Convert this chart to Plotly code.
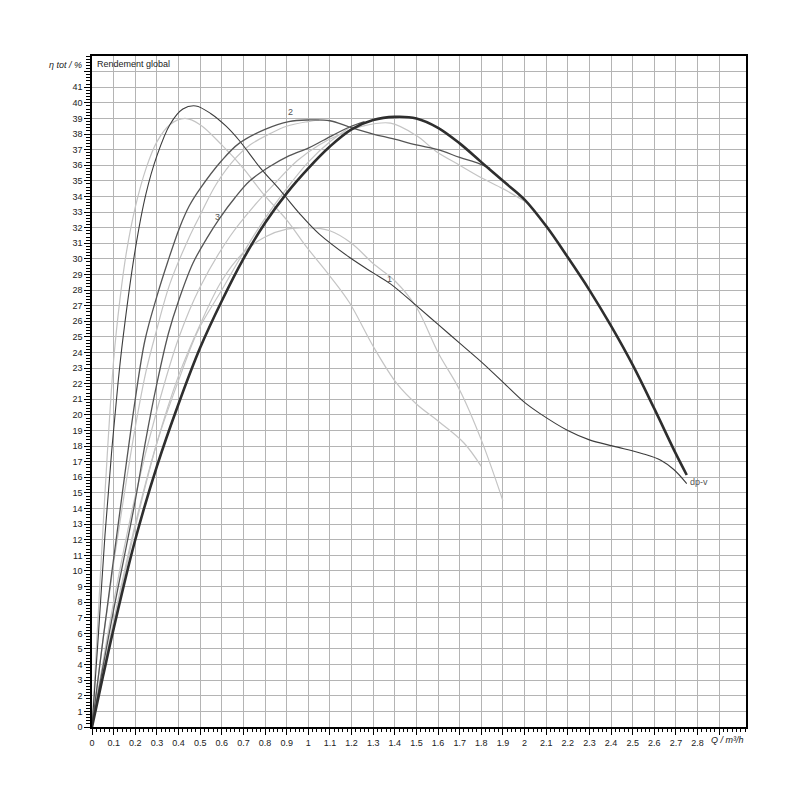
import plotly.graph_objects as go

# flow Q (m3/h) / efficiency (%)
q_1 = [0, 0.03, 0.06, 0.09, 0.12, 0.144, 0.2, 0.25, 0.3, 0.36, 0.42, 0.48, 0.55, 0.62, 0.68, 0.78, 0.87,
       0.96, 1.05, 1.19, 1.3, 1.38, 1.5, 1.6, 1.7, 1.8, 1.9, 2.0, 2.07, 2.2, 2.3, 2.41, 2.55, 2.63, 2.69, 2.75]
eta_1 = [0, 6, 12.3, 17.5, 22.0, 25.0, 30.6, 34.2, 36.6, 38.6, 39.6, 39.8, 39.3, 38.5, 37.6, 35.8, 34.4,
         32.9, 31.6, 30.1, 29.1, 28.4, 27.0, 25.8, 24.6, 23.4, 22.1, 20.8, 20.1, 19.0, 18.4, 18.0, 17.5, 17.1, 16.5, 15.6]

q_1a = [0, 0.03, 0.06, 0.1, 0.13, 0.16, 0.2, 0.25, 0.3, 0.36, 0.43, 0.5, 0.6, 0.7, 0.79, 0.9, 0.99,
        1.1, 1.19, 1.3, 1.41, 1.5, 1.61, 1.72, 1.8]
eta_1a = [0, 7.5, 15, 23.5, 27.5, 30.5, 33.3, 35.8, 37.5, 38.6, 39.0, 38.6, 37.3, 35.8, 34.2, 32.5, 30.8,
          28.9, 27.2, 24.4, 22.0, 20.7, 19.5, 18.2, 16.7]

q_2 = [0, 0.05, 0.1, 0.15, 0.2, 0.245, 0.3, 0.35, 0.405, 0.45, 0.5, 0.6, 0.68, 0.8, 0.91, 1.0, 1.1,
       1.19, 1.3, 1.39, 1.5, 1.6, 1.7, 1.79, 1.84]
eta_2 = [0, 5.5, 10.8, 16.0, 21.0, 24.8, 27.6, 29.8, 32.0, 33.4, 34.5, 36.3, 37.4, 38.3, 38.8, 38.9, 38.85,
         38.45, 38.0, 37.7, 37.3, 37.0, 36.5, 36.1, 35.8]

q_2a = [0, 0.05, 0.1, 0.15, 0.2, 0.25, 0.298, 0.36, 0.45, 0.5, 0.575, 0.667, 0.73, 0.82, 0.9, 1.0, 1.05]
eta_2a = [0, 5.5, 10.5, 15.0, 19.2, 22.8, 25.4, 28.4, 31.4, 32.8, 34.8, 36.5, 37.3, 38.0, 38.5, 38.8, 38.9]

q_3 = [0, 0.05, 0.1, 0.2, 0.25, 0.3, 0.353, 0.4, 0.466, 0.53, 0.59, 0.66, 0.73, 0.82, 0.91, 1.0,
       1.07, 1.19, 1.26]
eta_3 = [0, 3.8, 7.5, 14.5, 18.5, 22.0, 25.2, 27.3, 29.7, 31.3, 32.6, 33.9, 35.0, 35.9, 36.6, 37.1,
         37.6, 38.45, 38.8]

q_3a = [0, 0.1, 0.2, 0.3, 0.4, 0.5, 0.636, 0.75, 0.85, 0.95, 1.05, 1.15, 1.25, 1.38, 1.5, 1.59,
        1.7, 1.8, 1.9, 2.0]
eta_3a = [0, 8.0, 14.8, 20.3, 24.9, 28.2, 31.4, 33.4, 34.9, 36.3, 37.3, 38.0, 38.5, 38.7, 37.9, 36.9,
          36.0, 35.2, 34.5, 33.7]

q_4 = [0, 0.1, 0.2, 0.3, 0.4, 0.5, 0.6, 0.7, 0.8, 0.9, 1.0, 1.1, 1.2, 1.3, 1.4, 1.5, 1.6, 1.7, 1.8, 1.9]
eta_4 = [0, 6.5, 12.8, 18.2, 22.5, 25.8, 28.6, 30.4, 31.4, 31.9, 32.0, 31.8, 31.0, 29.7, 28.6, 26.9,
         24.0, 21.6, 18.4, 14.5]

q_va = [0, 0.1, 0.2, 0.3, 0.4, 0.49, 0.6, 0.7, 0.8, 0.9, 1.0, 1.1, 1.19]
eta_va = [0, 6.8, 13.0, 18.2, 22.2, 25.4, 28.0, 30.4, 32.6, 34.5, 36.2, 37.5, 38.4]

q_dpv = [0, 0.05, 0.1, 0.2, 0.3, 0.4, 0.5, 0.6, 0.7, 0.8, 0.9, 1.0, 1.1, 1.2, 1.3, 1.4,
         1.5, 1.6, 1.7, 1.8, 1.9, 2.0, 2.1, 2.2, 2.3, 2.4, 2.5, 2.6, 2.7, 2.75]
eta_dpv = [0, 3.2, 6.3, 12.0, 16.7, 20.7, 24.3, 27.3, 30.0, 32.3, 34.2, 35.8, 37.2, 38.3,
           38.9, 39.1, 39.0, 38.4, 37.4, 36.2, 35.0, 33.8, 32.1, 30.1, 28.0, 25.7, 23.2, 20.4, 17.5, 16.15]

x_ticks = [i / 10 for i in range(30)]
x_labels = ['0'] + ['%g' % v for v in x_ticks[1:29]] + ['']
y_ticks = list(range(43))
y_labels = [str(v) for v in range(42)] + ['']

FONT = 'Liberation Sans'
LIGHT = '#c4c4c4'

fig = go.Figure()

# pale curves first, dark ones on top
for q, eta in [(q_1a, eta_1a), (q_2a, eta_2a), (q_3a, eta_3a), (q_4, eta_4), (q_va, eta_va)]:
    fig.add_trace(go.Scatter(x=q, y=eta, mode='lines', line=dict(color=LIGHT, width=1.2, shape='spline'),
                             hoverinfo='skip'))

fig.add_trace(go.Scatter(x=q_1, y=eta_1, mode='lines', line=dict(color='#3c3c3c', width=1.1, shape='spline')))
fig.add_trace(go.Scatter(x=q_2, y=eta_2, mode='lines', line=dict(color='#555555', width=1.3, shape='spline')))
fig.add_trace(go.Scatter(x=q_3, y=eta_3, mode='lines', line=dict(color='#555555', width=1.3, shape='spline')))
fig.add_trace(go.Scatter(x=q_dpv, y=eta_dpv, mode='lines', line=dict(color='#2e2e2e', width=2.6, shape='spline')))

curve_labels = [('1', 1.377, 28.7, 'center'), ('2', 0.92, 39.4, 'center'),
                ('3', 0.58, 32.7, 'center'), ('dp-v', 2.757, 15.7, 'left')]
for txt, x, y, anchor in curve_labels:
    fig.add_annotation(x=x, y=y, text=txt, showarrow=False, xanchor=anchor,
                       font=dict(family=FONT, size=9, color='#555555'))

fig.add_annotation(x=0.015, y=42.5, text='Rendement global', showarrow=False, xanchor='left',
                   font=dict(family=FONT, size=9, color='#222222'))
fig.add_annotation(xref='paper', yref='y', x=0, y=42.4, xshift=-8, text='<i>η tot / %</i>',
                   showarrow=False, xanchor='right', font=dict(family=FONT, size=9, color='#222222'))
fig.add_annotation(xref='paper', yref='paper', x=1, y=0, yshift=-13, text='<i>Q / m³/h</i>',
                   showarrow=False, xanchor='right', yanchor='middle',
                   font=dict(family=FONT, size=9, color='#222222'))

axis_common = dict(
    showline=True, linewidth=1.5, linecolor='black', mirror=True,
    ticks='outside', tickcolor='black', tickwidth=1, ticklen=6,
    showgrid=True, gridcolor='#b4b4b4', gridwidth=1, zeroline=False,
    tickfont=dict(family=FONT, size=9, color='#222222'),
)

# the page body adds ~8px offset, margins compensate for it
fig.update_layout(
    plot_bgcolor='white',
    paper_bgcolor='white',
    showlegend=False,
    width=800,
    height=800,
    margin=dict(l=84, r=62, t=48, b=81),
    xaxis=dict(axis_common, range=[0, 3.024], tickmode='array', tickvals=x_ticks, ticktext=x_labels,
               minor=dict(ticks='outside', ticklen=3, tickcolor='black', dtick=0.02, tick0=0, showgrid=False)),
    yaxis=dict(axis_common, range=[0, 43], tickmode='array', tickvals=y_ticks, ticktext=y_labels,
               minor=dict(ticks='outside', ticklen=4, tickcolor='black', dtick=0.2, tick0=0, showgrid=False)),
)

fig.write_html("out.html")
